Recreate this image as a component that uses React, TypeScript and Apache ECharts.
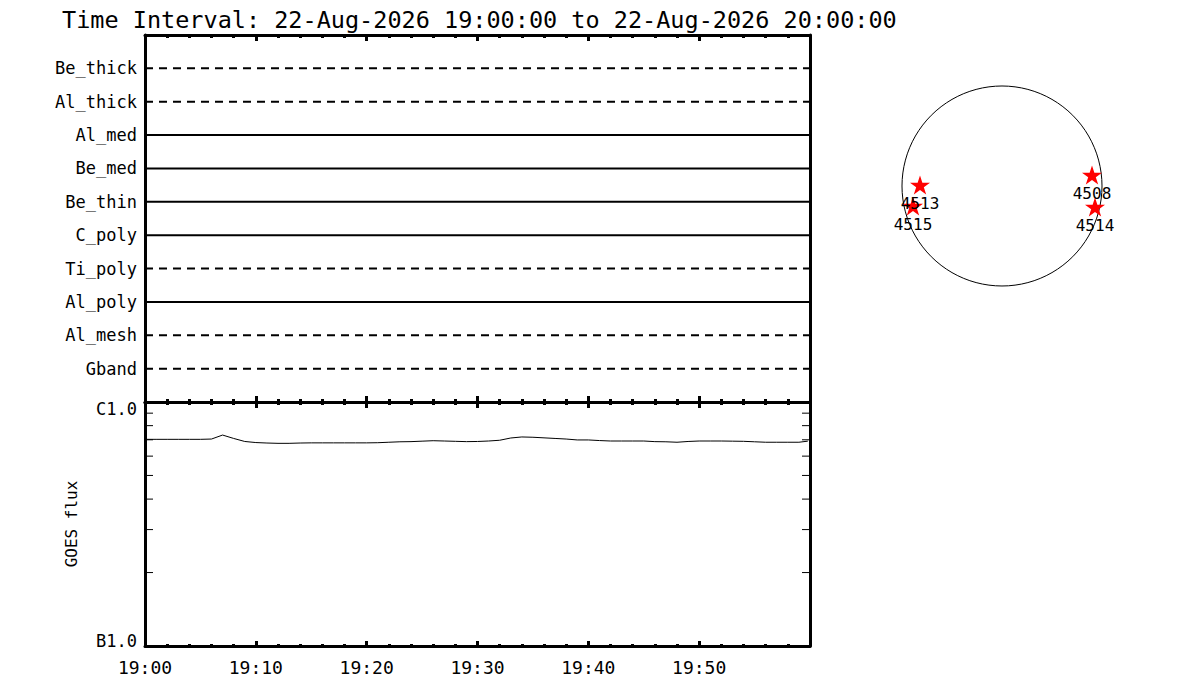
import React, { useEffect, useRef } from "react";
import * as echarts from "echarts";

// ---- Data ----
const titleText = "Time Interval: 22-Aug-2026 19:00:00 to 22-Aug-2026 20:00:00";

// Filter rows, from bottom (1) to top (10)
const filterNames = ["Gband", "Al_mesh", "Al_poly", "Ti_poly", "C_poly", "Be_thin", "Be_med", "Al_med", "Al_thick", "Be_thick"];
const filterDashed = [true, true, false, true, false, false, false, false, true, true];

// Time axis in minutes after 19:00
const timeRange = [0, 60];
const xTickLabels = ["19:00", "19:10", "19:20", "19:30", "19:40", "19:50"];

// GOES flux (W/m^2), one value per minute from 19:00
const goesMinutes = [
  0, 1, 2, 3, 4, 5, 6, 7, 8, 9, 10, 11, 12, 13, 14, 15, 16, 17, 18, 19,
  20, 21, 22, 23, 24, 25, 26, 27, 28, 29, 30, 31, 32, 33, 34, 35, 36, 37, 38, 39,
  40, 41, 42, 43, 44, 45, 46, 47, 48, 49, 50, 51, 52, 53, 54, 55, 56, 57, 58, 59, 59.8,
];
const goesFlux = [
  7.03e-7, 7.03e-7, 7.03e-7, 7.03e-7, 7.03e-7, 7.03e-7, 7.05e-7, 7.32e-7, 7.09e-7, 6.89e-7,
  6.82e-7, 6.79e-7, 6.77e-7, 6.77e-7, 6.79e-7, 6.8e-7, 6.8e-7, 6.8e-7, 6.8e-7, 6.8e-7,
  6.8e-7, 6.81e-7, 6.84e-7, 6.87e-7, 6.88e-7, 6.91e-7, 6.94e-7, 6.92e-7, 6.9e-7, 6.88e-7,
  6.89e-7, 6.92e-7, 6.97e-7, 7.12e-7, 7.19e-7, 7.17e-7, 7.13e-7, 7.09e-7, 7.05e-7, 6.99e-7,
  6.99e-7, 6.95e-7, 6.92e-7, 6.92e-7, 6.92e-7, 6.92e-7, 6.88e-7, 6.87e-7, 6.84e-7, 6.89e-7,
  6.92e-7, 6.92e-7, 6.92e-7, 6.91e-7, 6.9e-7, 6.87e-7, 6.84e-7, 6.84e-7, 6.84e-7, 6.84e-7, 6.91e-7,
];
const fluxRange = [1e-7, 1e-6];
const fluxLabels = ["B1.0", "C1.0"];
const fluxMinorTicks = [2e-7, 3e-7, 4e-7, 5e-7, 6e-7, 7e-7, 8e-7, 9e-7];

// Active regions on the solar disk (solar radii)
const regionNames = ["4513", "4515", "4508", "4514"];
const regionX = [-0.82, -0.89, 0.9, 0.93];
const regionY = [0.01, -0.2, 0.11, -0.21];

const FONT = "DejaVu Sans Mono";
const STAR =
  "path://M0,-1 L0.2245,-0.309 L0.951,-0.309 L0.363,0.118 L0.588,0.809 L0,0.382 L-0.588,0.809 L-0.363,0.118 L-0.951,-0.309 L-0.2245,-0.309 Z";

export default function App() {
  const ref = useRef<HTMLDivElement>(null);

  useEffect(() => {
    if (!ref.current) return;
    const chart = echarts.init(ref.current, null, { renderer: "svg" });

    const axisLine = { show: true, onZero: false, lineStyle: { color: "#000", width: 3 } };
    const xBase = {
      type: "value" as const,
      min: timeRange[0],
      max: timeRange[1],
      interval: 10,
      axisLine,
      axisTick: { show: true, inside: true, length: 6, lineStyle: { color: "#000", width: 3 } },
      minorTick: { show: true, splitNumber: 5, length: 3, lineStyle: { color: "#000", width: 3 } },
      splitLine: { show: false },
      axisLabel: { show: false },
    };

    const filterSeries = filterNames.map((name, i) => ({
      type: "line",
      name,
      xAxisIndex: 0,
      yAxisIndex: 0,
      data: [
        [timeRange[0], i + 1],
        [timeRange[1], i + 1],
      ],
      showSymbol: false,
      lineStyle: { color: "#000", width: 2, type: filterDashed[i] ? [8, 6] : "solid" },
      silent: true,
    }));

    chart.setOption({
      animation: false,
      backgroundColor: "#fff",
      title: {
        text: titleText,
        left: 57,
        top: 3,
        textStyle: { fontFamily: FONT, fontSize: 23.5, fontWeight: "normal", color: "#000" },
      },
      grid: [
        { left: 145, top: 35, width: 665, height: 367 },
        { left: 145, top: 402, width: 665, height: 244 },
        { left: 902, top: 86, width: 200, height: 200 },
      ],
      xAxis: [
        { ...xBase, gridIndex: 0, position: "bottom" },
        { ...xBase, gridIndex: 0, position: "top" },
        {
          ...xBase,
          gridIndex: 1,
          position: "bottom",
          axisTick: { ...xBase.axisTick, length: 5 },
          minorTick: { ...xBase.minorTick, length: 2 },
          axisLabel: {
            show: true,
            margin: 12,
            fontFamily: FONT,
            fontSize: 18,
            color: "#000",
            formatter: (v: number) => xTickLabels[Math.round(v / 10)] ?? "",
          },
        },
        { ...xBase, gridIndex: 1, position: "top" },
        { type: "value", gridIndex: 2, min: -1, max: 1, show: false },
      ],
      yAxis: [
        {
          type: "value",
          gridIndex: 0,
          min: 0,
          max: 11,
          interval: 1,
          position: "left",
          axisLine,
          axisTick: { show: false },
          splitLine: { show: false },
          axisLabel: {
            margin: 8,
            fontFamily: FONT,
            fontSize: 17,
            color: "#000",
            formatter: (v: number) => filterNames[Math.round(v) - 1] ?? "",
          },
        },
        {
          type: "value",
          gridIndex: 0,
          min: 0,
          max: 11,
          position: "right",
          axisLine,
          axisTick: { show: false },
          splitLine: { show: false },
          axisLabel: { show: false },
        },
        {
          type: "log",
          logBase: 10,
          gridIndex: 1,
          min: fluxRange[0],
          max: fluxRange[1],
          position: "left",
          axisLine,
          axisTick: { show: false },
          splitLine: { show: false },
          name: "GOES flux",
          nameLocation: "middle",
          nameGap: 66,
          nameTextStyle: { fontFamily: FONT, fontSize: 16, color: "#000" },
          axisLabel: {
            margin: 8,
            fontFamily: FONT,
            fontSize: 17,
            color: "#000",
            formatter: (v: number) => (v > 5e-7 ? `{top|${fluxLabels[1]}}` : `{bot|${fluxLabels[0]}}`),
            rich: {
              top: { fontFamily: FONT, fontSize: 17, color: "#000", padding: [14, 0, 0, 0] },
              bot: { fontFamily: FONT, fontSize: 17, color: "#000", padding: [0, 0, 10, 0] },
            },
          },
        },
        {
          type: "log",
          logBase: 10,
          gridIndex: 1,
          min: fluxRange[0],
          max: fluxRange[1],
          position: "right",
          axisLine,
          axisTick: { show: false },
          splitLine: { show: false },
          axisLabel: { show: false },
        },
        { type: "value", gridIndex: 2, min: -1, max: 1, show: false },
      ],
      series: [
        ...filterSeries,
        {
          type: "line",
          name: "GOES",
          xAxisIndex: 2,
          yAxisIndex: 2,
          data: goesMinutes.map((m, i) => [m, goesFlux[i]]),
          showSymbol: false,
          lineStyle: { color: "#000", width: 1 },
          silent: true,
        },
        {
          type: "custom",
          name: "fluxMinorTicks",
          xAxisIndex: 2,
          yAxisIndex: 2,
          data: fluxMinorTicks.map((v) => [timeRange[0], v]),
          encode: { x: 0, y: 1 },
          silent: true,
          renderItem: (params: any, api: any) => {
            const v = api.value(1);
            const pl = api.coord([timeRange[0], v]);
            const pr = api.coord([timeRange[1], v]);
            const style = { stroke: "#000", lineWidth: 1 };
            return {
              type: "group",
              children: [
                { type: "line", shape: { x1: pl[0], y1: pl[1], x2: pl[0] + 8, y2: pl[1] }, style },
                { type: "line", shape: { x1: pr[0] - 8, y1: pr[1], x2: pr[0], y2: pr[1] }, style },
              ],
            };
          },
        },
        {
          type: "custom",
          name: "disk",
          xAxisIndex: 4,
          yAxisIndex: 4,
          data: [[0, 0, 1]],
          encode: { x: 0, y: 1 },
          silent: true,
          renderItem: (params: any, api: any) => {
            const c = api.coord([api.value(0), api.value(1)]);
            const r = api.size([api.value(2), api.value(2)])[0];
            return {
              type: "circle",
              shape: { cx: c[0], cy: c[1], r },
              style: { fill: "none", stroke: "#000", lineWidth: 1 },
            };
          },
        },
        {
          type: "scatter",
          name: "regions",
          xAxisIndex: 4,
          yAxisIndex: 4,
          symbol: STAR,
          symbolSize: [20, 19],
          itemStyle: { color: "#ff0000", opacity: 1 },
          data: regionNames.map((n, i) => ({ name: n, value: [regionX[i], regionY[i]] })),
          label: {
            show: true,
            position: "bottom",
            distance: 1,
            formatter: "{b}",
            fontFamily: FONT,
            fontSize: 16,
            color: "#000",
            opacity: 1,
          },
          silent: true,
        },
      ],
    });

    return () => chart.dispose();
  }, []);

  return (
    <div
      ref={ref}
      style={{ position: "fixed", left: 0, top: 0, width: 1200, height: 700, background: "#fff" }}
    />
  );
}
